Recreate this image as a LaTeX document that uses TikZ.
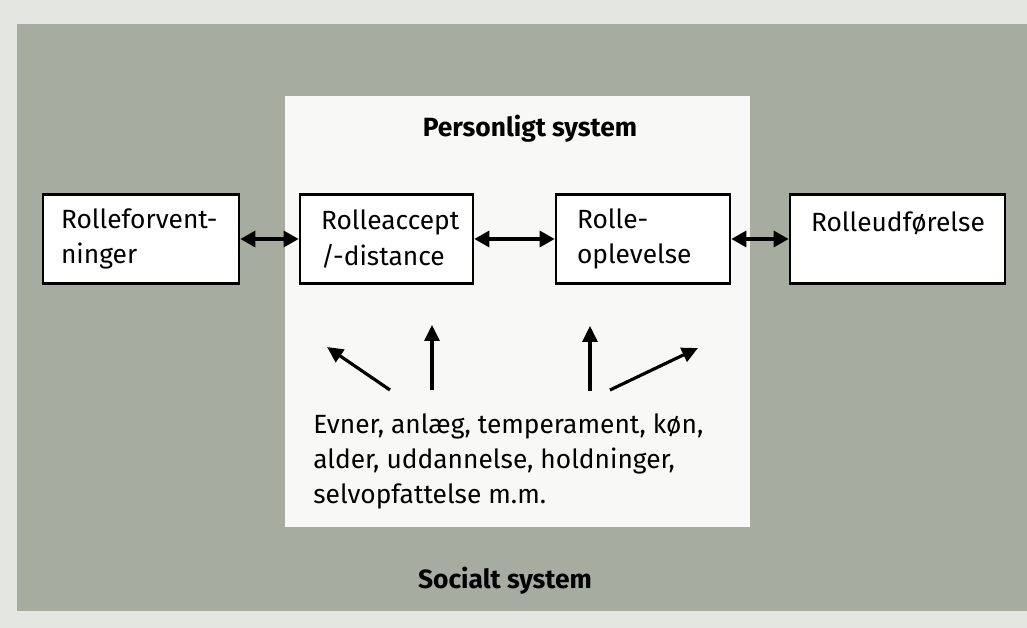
\documentclass[tikz,border=0pt]{standalone}
\usepackage{fontspec}
\setmainfont{Fira Sans}
\usetikzlibrary{arrows.meta}
\definecolor{paper}{RGB}{228,230,225}
\definecolor{socialgray}{RGB}{167,172,161}
\definecolor{innerwhite}{RGB}{248,248,246}
\tikzset{
  rolebox/.style={draw, line width=1.5pt, fill=white, align=left,
    inner xsep=0.42cm, minimum height=1.78cm},
  link/.style={line width=1.8pt,
    {Triangle[length=0.3cm,width=0.32cm]}-{Triangle[length=0.3cm,width=0.32cm]}},
  push/.style={line width=1.8pt, -{Triangle[length=0.32cm,width=0.3cm]}},
}
\begin{document}
\begin{tikzpicture}[scale=2, font=\fontsize{15}{20}\selectfont]
\useasboundingbox (0,0) rectangle (10.27,6.28);

% background: social and personal system
\fill [paper] (0,0) rectangle (10.27,6.28);
\fill [socialgray] (0.17,0.17) rectangle (10.27,6.04);
\fill [innerwhite] (2.85,1.01) rectangle (7.50,5.32);

\node [font=\fontsize{15}{20}\selectfont\bfseries] (pers) at (5.30,4.99) {Personligt system};
\node [font=\fontsize{15}{20}\selectfont\bfseries] (soc) at (5.05,0.47) {Socialt system};

% role boxes
\node [rolebox, inner xsep=0.36cm, text width=3.2cm] (forv) at (1.41,3.89) {Rolleforvent-\\ninger};
\node [rolebox, text width=2.62cm] (accept) at (3.865,3.89) {Rolleaccept\\/-distance};
\node [rolebox, text width=2.64cm] (oplev) at (6.43,3.89) {Rolle-\\oplevelse};
\node [rolebox, text width=3.46cm, align=center] (udf) at (8.975,3.89) {Rolleudførelse\\\mbox{}};

\draw [link] (forv) -- (accept);
\draw [link] (accept) -- (oplev);
\draw [link] (oplev) -- (udf);

% personal traits
\node [anchor=north west, align=left, inner sep=0] (traits) at (3.13,2.15)
  {Evner, anlæg, temperament, køn,\\alder, uddannelse, holdninger,\\selvopfattelse m.m.};

\coordinate (a1) at (3.90,2.38);
\coordinate (b1) at (3.27,2.81);
\coordinate (a2) at (4.32,2.38);
\coordinate (b2) at (4.32,3.03);
\coordinate (a3) at (5.90,2.37);
\coordinate (b3) at (5.90,3.02);
\coordinate (a4) at (6.10,2.38);
\coordinate (b4) at (6.98,2.80);
\draw [push] (a1) -- (b1);
\draw [push] (a2) -- (b2);
\draw [push] (a3) -- (b3);
\draw [push] (a4) -- (b4);
\end{tikzpicture}
\end{document}
